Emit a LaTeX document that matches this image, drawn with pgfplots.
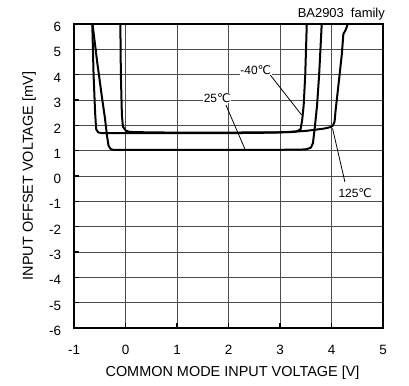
\documentclass[border=0pt]{standalone}
\usepackage{fontspec}
\setmainfont{Liberation Sans}
\newfontfamily\dejavu{DejaVu Sans}
\usepackage{pgfplots}
\pgfplotsset{compat=1.18}
\newcommand{\degC}{{\dejavu ℃}}

\begin{document}
\begin{tikzpicture}
\begin{axis}[
    scale only axis, width=309bp, height=304bp,
    xmin=-1, xmax=5, ymin=-6, ymax=6,
    xtick={-1,0,...,5}, ytick={-6,-5,...,6},
    xticklabels={-1,0,1,2,3,4,5},
    yticklabels={-6,-5,-4,-3,-2,-1,0,1,2,3,4,5,6},
    grid=major, major grid style={black!70, line width=0.7bp},
    axis line style={line width=2bp},
    tick align=inside, xtick pos=bottom, ytick pos=left,
    major tick length=5bp, tick style={black, line width=1.5bp},
    ticklabel style={font=\fontsize{13.5}{16}\selectfont},
    xticklabel style={yshift=-14bp},
    yticklabel style={xshift=-9.5bp, yshift=-3bp},
    every axis x label/.style={at={(axis description cs:0.513,0)}, anchor=base, yshift=-48.7bp,
        font=\fontsize{14.5}{17}\selectfont},
    every axis y label/.style={at={(axis description cs:-0.1327,0.5)}, rotate=90, anchor=base,
        font=\fontsize{14.5}{17}\selectfont},
    xlabel={COMMON MODE INPUT VOLTAGE [V]},
    ylabel={INPUT OFFSET VOLTAGE [mV]},
    clip mode=individual,
]
% 25 C
\addplot[black, line width=2bp, line join=round] coordinates {
(-0.64,6) (-0.55,4.5) (-0.45,3) (-0.40,2.3) (-0.36,1.6) (-0.33,1.2) (-0.29,1.07) (-0.24,1.03)
(0.5,1.03) (1.5,1.03) (2.5,1.03) (3.4,1.04) (3.52,1.06) (3.6,1.12) (3.64,1.3) (3.68,2.0)
(3.72,2.8) (3.76,4) (3.81,6)
};
% -40 C
\addplot[black, line width=2bp, line join=round] coordinates {
(-0.1,6) (-0.09,4) (-0.07,2.4) (-0.05,1.95) (0.0,1.8) (0.08,1.74) (0.5,1.72) (1.5,1.71)
(2.5,1.72) (3.2,1.73) (3.33,1.76) (3.4,1.85) (3.43,2.2) (3.46,2.8) (3.49,4) (3.52,6)
};
% 125 C
\addplot[black, line width=2bp, line join=round] coordinates {
(-0.645,6) (-0.62,4) (-0.59,2.5) (-0.57,1.85) (-0.53,1.72) (-0.45,1.69) (0.5,1.69) (1.5,1.69)
(2.5,1.7) (3.0,1.72) (3.5,1.78) (3.85,1.87) (3.98,1.93) (4.03,2.0) (4.06,2.15) (4.08,2.6)
(4.13,3.5) (4.2,4.8) (4.23,5.6) (4.27,5.75) (4.30,5.9) (4.31,6)
};
% leaders
\addplot[black, line width=0.8bp] coordinates {(2.81,3.99) (3.42,2.41)};
\addplot[black, line width=0.8bp] coordinates {(1.95,2.8) (2.32,1.06)};
\addplot[black, line width=0.8bp] coordinates {(4.02,1.88) (4.26,-0.23)};

\node[font=\fontsize{12}{14}\selectfont, fill=white, inner sep=0.5bp] at (axis cs:2.53,4.18) {-40\degC};
\node[font=\fontsize{12}{14}\selectfont, fill=white, inner sep=0.5bp] at (axis cs:1.78,3.08) {25\degC};
\node[font=\fontsize{12}{14}\selectfont, fill=white, inner sep=0.5bp] at (axis cs:4.46,-0.67) {125\degC};
\node[font=\fontsize{13}{15}\selectfont, anchor=base east, inner sep=0pt] at (rel axis cs:1,1)
    [yshift=7bp, xshift=2bp] {BA2903\hspace{0.55em}family};
\end{axis}
\path ([shift={(-74bp,-57bp)}]current axis.south west) rectangle ([shift={(26bp,24bp)}]current axis.north east);
\end{tikzpicture}
\end{document}
